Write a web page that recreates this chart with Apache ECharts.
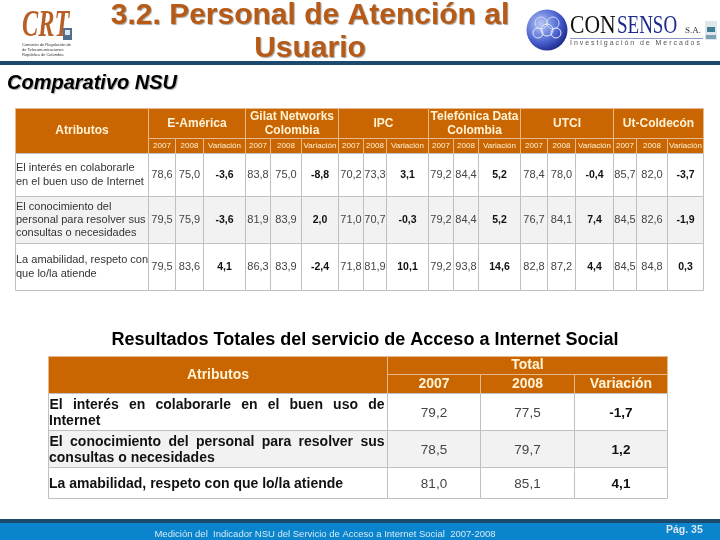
<!DOCTYPE html>
<html>
<head>
<meta charset="utf-8">
<style>html,body{margin:0;padding:0;background:#fff}#Chart{width:720px;height:540px}</style>
<script src="https://cdn.jsdelivr.net/npm/echarts@6/dist/echarts.min.js"></script>
</head>
<body>
<div id="Chart"></div>
<script>
var providers = ['E-América', 'Gilat Networks\nColombia', 'IPC', 'Telefónica Data\nColombia', 'UTCI', 'Ut-Coldecón'];
var subHeaders = ['2007', '2008', 'Variación'];
var attributes = [
    'El interés en colaborarle\nen el buen uso de Internet',
    'El conocimiento del\npersonal para resolver sus\nconsultas o necesidades',
    'La amabilidad, respeto con\nque lo/la atiende'
];
var values2007 = [
    [78.6, 83.8, 70.2, 79.2, 78.4, 85.7],
    [79.5, 81.9, 71.0, 79.2, 76.7, 84.5],
    [79.5, 86.3, 71.8, 79.2, 82.8, 84.5]
];
var values2008 = [
    [75.0, 75.0, 73.3, 84.4, 78.0, 82.0],
    [75.9, 83.9, 70.7, 84.4, 84.1, 82.6],
    [83.6, 83.9, 81.9, 93.8, 87.2, 84.8]
];
var variation = [
    [-3.6, -8.8, 3.1, 5.2, -0.4, -3.7],
    [-3.6, 2.0, -0.3, 5.2, 7.4, -1.9],
    [4.1, -2.4, 10.1, 14.6, 4.4, 0.3]
];
var totalAttributes = [
    'El interés en colaborarle en el buen uso de\nInternet',
    'El conocimiento del personal para resolver sus\nconsultas o necesidades',
    'La amabilidad, respeto con que lo/la atiende'
];
var total2007 = [79.2, 78.5, 81.0];
var total2008 = [77.5, 79.7, 85.1];
var totalVariation = [-1.7, 1.2, 4.1];

// column and row edges of the two tables, in page pixels
var xEdges1 = [15.5, 148.5, 175.5, 203.5, 245.5, 270.5, 301.5, 338.5, 363.5, 386.5, 428.5, 453.5, 478.5, 520.5, 547.5, 575.5, 613.5, 636.5, 667.5, 703.5];
var yEdges1 = [108.5, 138.5, 153.5, 196.5, 243.5, 290.5];
var xEdges2 = [48.5, 387.5, 480.5, 574.5, 667.5];
var yEdges2 = [356.5, 374.5, 393.5, 430.5, 467.5, 498.5];

var ORANGE = '#c96602';
var CREAM = '#fff3d6';
var SANS = '"Liberation Sans", Arial, sans-serif';
var SERIF = '"Liberation Serif", serif';

function num(v) {
    return v.toFixed(1).replace('.', ',');
}

var measure = document.createElement('canvas').getContext('2d');

function cell(x0, x1, y0, y1, text, kind) {
    return {value: [x0, x1, y0, y1], text: text, kind: kind};
}

var cells1 = [cell(0, 1, 0, 2, 'Atributos', 'head1')];
providers.forEach(function (name, p) {
    var c = 1 + p * 3;
    cells1.push(cell(c, c + 3, 0, 1, name, 'head1'));
    subHeaders.forEach(function (s, k) {
        cells1.push(cell(c + k, c + k + 1, 1, 2, s, 'sub1'));
    });
});
attributes.forEach(function (a, r) {
    cells1.push(cell(0, 1, r + 2, r + 3, a, 'label1'));
    providers.forEach(function (name, p) {
        var c = 1 + p * 3;
        cells1.push(cell(c, c + 1, r + 2, r + 3, num(values2007[r][p]), 'val1'));
        cells1.push(cell(c + 1, c + 2, r + 2, r + 3, num(values2008[r][p]), 'val1'));
        cells1.push(cell(c + 2, c + 3, r + 2, r + 3, num(variation[r][p]), 'var1'));
    });
});

var cells2 = [cell(0, 1, 0, 2, 'Atributos', 'head2'), cell(1, 4, 0, 1, 'Total', 'head2')];
subHeaders.forEach(function (s, k) {
    cells2.push(cell(k + 1, k + 2, 1, 2, s, 'head2'));
});
totalAttributes.forEach(function (a, r) {
    cells2.push(cell(0, 1, r + 2, r + 3, a, 'label2'));
    cells2.push(cell(1, 2, r + 2, r + 3, num(total2007[r]), 'val2'));
    cells2.push(cell(2, 3, r + 2, r + 3, num(total2008[r]), 'val2'));
    cells2.push(cell(3, 4, r + 2, r + 3, num(totalVariation[r]), 'var2'));
});

var kinds = {
    head1: {font: 'bold 12px ' + SANS, color: CREAM, lh: 14, dy: 0},
    sub1: {font: '8px ' + SANS, color: CREAM, lh: 10, dy: 0},
    label1: {font: '11px ' + SANS, color: '#333', lh: 13.3, left: true, dy: 0},
    val1: {font: '11px ' + SANS, color: '#444', lh: 13, dy: 0},
    var1: {font: 'bold 10.5px ' + SANS, color: '#111', lh: 13, dy: 0},
    head2: {font: 'bold 14px ' + SANS, color: CREAM, lh: 16, dy: 0},
    label2: {font: 'bold 14px ' + SANS, color: '#111', lh: 16, left: true, justify: true, dy: 1},
    val2: {font: '13.5px ' + SANS, color: '#444', lh: 16, dy: 1},
    var2: {font: 'bold 13.5px ' + SANS, color: '#111', lh: 16, dy: 1}
};

function makeRenderItem(xEdges, yEdges, cells) {
    return function (params, api) {
        var item = cells[params.dataIndex];
        var st = kinds[item.kind];
        var p0 = api.coord([xEdges[api.value(0)], yEdges[api.value(2)]]);
        var p1 = api.coord([xEdges[api.value(1)], yEdges[api.value(3)]]);
        var isHead = item.kind.indexOf('head') === 0 || item.kind === 'sub1';
        var oddRow = !isHead && api.value(2) === 3;
        var children = [{
            type: 'rect',
            shape: {x: p0[0], y: p0[1], width: p1[0] - p0[0], height: p1[1] - p0[1]},
            style: {
                fill: isHead ? ORANGE : (oddRow ? '#f2f2f2' : '#fff'),
                stroke: isHead ? '#e6b98a' : '#c0c0c0',
                lineWidth: 1
            }
        }];
        var lines = item.text.split('\n');
        var midY = (p0[1] + p1[1]) / 2 + st.dy;
        lines.forEach(function (line, i) {
            var y = midY + (i - (lines.length - 1) / 2) * st.lh;
            var isJustified = st.justify && lines.length > 1 && i === 0;
            if (isJustified) {
                // first line of the totals labels is stretched to the cell width
                measure.font = st.font;
                var words = line.split(' ');
                var used = 0;
                words.forEach(function (w) { used += measure.measureText(w).width; });
                var gap = (p1[0] - p0[0] - 4 - used) / (words.length - 1);
                var x = p0[0] + 1;
                words.forEach(function (w) {
                    children.push({
                        type: 'text',
                        style: {x: x, y: y, text: w, font: st.font, fill: st.color, align: 'left', verticalAlign: 'middle'}
                    });
                    x += measure.measureText(w).width + gap;
                });
            } else {
                children.push({
                    type: 'text',
                    style: {
                        x: st.left ? p0[0] + 0.5 : (p0[0] + p1[0]) / 2,
                        y: y,
                        text: line,
                        font: st.font,
                        fill: st.color,
                        align: st.left ? 'left' : 'center',
                        verticalAlign: 'middle'
                    }
                });
            }
        });
        return {type: 'group', children: children};
    };
}

function hiddenAxis(edges, inverse, gridIndex) {
    return {
        type: 'value',
        gridIndex: gridIndex,
        min: edges[0],
        max: edges[edges.length - 1],
        inverse: inverse,
        show: false
    };
}

function gridFor(xEdges, yEdges) {
    return {
        left: xEdges[0],
        top: yEdges[0],
        width: xEdges[xEdges.length - 1] - xEdges[0],
        height: yEdges[yEdges.length - 1] - yEdges[0],
        show: false
    };
}

function tableSeries(xEdges, yEdges, cells, index) {
    return {
        type: 'custom',
        coordinateSystem: 'cartesian2d',
        xAxisIndex: index,
        yAxisIndex: index,
        clip: false,
        silent: true,
        encode: {x: [0, 1], y: [2, 3]},
        renderItem: makeRenderItem(xEdges, yEdges, cells),
        data: cells
    };
}

function gtext(x, y, text, font, fill, scaleX) {
    return {
        type: 'text',
        silent: true,
        x: x,
        y: y,
        scaleX: scaleX || 1,
        style: {x: 0, y: 0, text: text, font: font, fill: fill, align: 'left', verticalAlign: 'middle'}
    };
}

function grect(x, y, w, h, fill) {
    return {type: 'rect', silent: true, shape: {x: x, y: y, width: w, height: h}, style: {fill: fill}};
}

function ring(cx, cy, r, color) {
    return {type: 'circle', silent: true, shape: {cx: cx, cy: cy, r: r}, style: {fill: 'none', stroke: color, lineWidth: 1}};
}

var decoration = [
    // bands
    grect(0, 61, 720, 4, '#1c4a6e'),
    grect(0, 519, 720, 4, '#1c4a6e'),
    grect(0, 523, 720, 17, '#0a84cc'),
    // CRT logo
    gtext(22, 26, 'CRT', 'italic bold 38px ' + SERIF, '#b85f28', 0.64),
    grect(63, 28, 9, 12, '#51708f'),
    grect(65, 30, 5, 5, '#dce6ef'),
    gtext(22, 44.5, 'Comisión de Regulación de', '4px ' + SANS, '#333'),
    gtext(22, 49.5, 'de Telecomunicaciones', '4px ' + SANS, '#333'),
    gtext(22, 54.5, 'República de Colombia', '4px ' + SANS, '#333'),
    // Consenso logo
    {
        type: 'circle', silent: true,
        shape: {cx: 547, cy: 30, r: 20.5},
        style: {fill: new echarts.graphic.RadialGradient(0.35, 0.35, 0.75, [
            {offset: 0, color: '#b9c8f5'},
            {offset: 0.6, color: '#4a62d0'},
            {offset: 1, color: '#14207e'}
        ])}
    },
    ring(541, 23, 6, '#cfdaf8'),
    ring(553, 23, 6, '#cfdaf8'),
    ring(547, 30, 6, '#e6ecfc'),
    ring(538, 33, 5, '#e6ecfc'),
    ring(556, 33, 5, '#e6ecfc'),
    gtext(570, 26, 'CON', '26px ' + SERIF, '#111', 0.83),
    gtext(617, 26, 'SENSO', '26px ' + SERIF, '#1d2a8c', 0.73),
    gtext(685, 31, 'S.A.', '9px ' + SERIF, '#333'),
    grect(570, 38, 133, 1, '#8c97c8'),
    gtext(570, 43.5, 'I n v e s t i g a c i ó n   d e   M e r c a d o s', '7px ' + SANS, '#555'),
    grect(705, 21, 12, 19, '#dfe6ec'),
    grect(707, 27, 8, 5, '#3b7f95'),
    grect(706, 35, 10, 4, '#7ea0b4')
];

var Chart = echarts.init(document.getElementById('Chart'));

var ChartOption = {
    animation: false,
    backgroundColor: '#fff',
    title: [
        {
            text: '3.2. Personal de Atención al\nUsuario',
            left: 305,
            top: -6,
            textAlign: 'center',
            textStyle: {
                fontFamily: SANS, fontSize: 30, fontWeight: 'bold', color: '#b65a16', lineHeight: 33,
                textShadowColor: 'rgba(90,90,90,0.55)', textShadowBlur: 1, textShadowOffsetX: 1, textShadowOffsetY: 1
            }
        },
        {
            text: 'Comparativo NSU',
            left: 7,
            top: 73,
            padding: 0,
            textStyle: {
                fontFamily: SANS, fontSize: 20, fontWeight: 'bold', fontStyle: 'italic', color: '#000',
                textShadowColor: 'rgba(90,90,90,0.55)', textShadowBlur: 1, textShadowOffsetX: 1, textShadowOffsetY: 1
            }
        },
        {
            text: 'Resultados Totales del servicio de Acceso a Internet Social',
            left: 365,
            top: 331,
            padding: 0,
            textAlign: 'center',
            textStyle: {fontFamily: SANS, fontSize: 18, fontWeight: 'bold', color: '#000'}
        },
        {
            text: 'Medición del  Indicador NSU del Servicio de Acceso a Internet Social  2007-2008',
            left: 325,
            top: 529,
            padding: 0,
            textAlign: 'center',
            textStyle: {fontFamily: SANS, fontSize: 9.5, fontWeight: 'normal', color: '#d5e9f6'}
        },
        {
            text: 'Pág. 35',
            left: 666,
            top: 525,
            padding: 0,
            textStyle: {fontFamily: SANS, fontSize: 10.5, fontWeight: 'bold', color: '#dbe6f0'}
        }
    ],
    grid: [gridFor(xEdges1, yEdges1), gridFor(xEdges2, yEdges2)],
    xAxis: [hiddenAxis(xEdges1, false, 0), hiddenAxis(xEdges2, false, 1)],
    yAxis: [hiddenAxis(yEdges1, true, 0), hiddenAxis(yEdges2, true, 1)],
    series: [
        tableSeries(xEdges1, yEdges1, cells1, 0),
        tableSeries(xEdges2, yEdges2, cells2, 1)
    ],
    graphic: {elements: decoration}
};

Chart.setOption(ChartOption);

window.addEventListener("resize", function () {
    Chart.resize();
});
</script>
</body>
</html>
